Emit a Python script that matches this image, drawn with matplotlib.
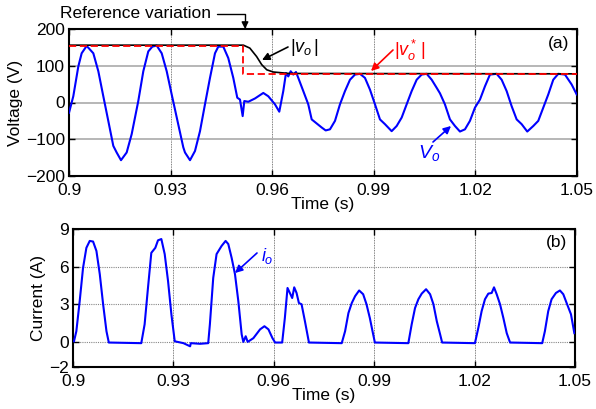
import matplotlib
matplotlib.use("Agg")
import matplotlib.pyplot as plt
import numpy as np

plt.rcParams["font.family"] = ["Liberation Sans", "DejaVu Sans"]
plt.rcParams["mathtext.fontset"] = "custom"
plt.rcParams["mathtext.rm"] = "Liberation Sans"
plt.rcParams["mathtext.it"] = "Liberation Sans:italic"
plt.rcParams["font.size"] = 12.5

# ---- data ----
# output voltage v_o (V)
vo_t = [0.9, 0.90127, 0.90275, 0.90374, 0.90522, 0.90718, 0.90866, 0.91013, 0.9116, 0.91308,
        0.91407, 0.91535, 0.91703, 0.91851, 0.92046, 0.92194, 0.92341, 0.9246, 0.92589, 0.92737,
        0.92885, 0.93032, 0.93227, 0.93375, 0.93425, 0.93573, 0.9372, 0.93868, 0.94015, 0.94163,
        0.94311, 0.94408, 0.94556, 0.94703, 0.94851, 0.94969, 0.95049, 0.95128, 0.95176, 0.95294,
        0.95492, 0.95737, 0.95884, 0.96082, 0.96209, 0.96327, 0.96407, 0.96475, 0.96546, 0.96623,
        0.96702, 0.9677, 0.96918, 0.97065, 0.97166, 0.97313, 0.97461, 0.97579, 0.97706, 0.97854,
        0.98001, 0.98149, 0.98297, 0.98444, 0.98592, 0.98739, 0.98887, 0.99035, 0.99182, 0.9933,
        0.99527, 0.99675, 0.99823, 0.9997, 1.00118, 1.00266, 1.00413, 1.00561, 1.00709, 1.00856,
        1.00954, 1.0110, 1.01249, 1.01397, 1.01544, 1.01692, 1.01839, 1.01987, 1.02135, 1.02282,
        1.0243, 1.02627, 1.02775, 1.02923, 1.0307, 1.03218, 1.03366, 1.03531, 1.03709, 1.03856,
        1.04004, 1.04152, 1.04299, 1.04447, 1.04645, 1.04842, 1.0499]
vo_v = [-28, 17, 98, 134, 154, 134, 85, 17, -50, -118,
        -136, -157, -136, -86, 4, 85, 139, 152, 155, 134,
        85, 22, -60, -122, -136, -157, -132, -78, -5, 67,
        134, 152, 152, 121, 67, 13, 8, -37, 4, 2,
        11, 26, 17, -5, -25, 31, 80, 71, 85, 76,
        83, 67, 31, -5, -46, -57, -68, -76, -73, -50,
        -5, 31, 62, 76, 78, 67, 35, -5, -46, -59,
        -78, -64, -41, -5, 31, 62, 76, 78, 62, 40,
        25, -5, -46, -64, -79, -73, -50, -14, 8, 44,
        76, 78, 62, 31, -10, -46, -59, -79, -64, -50,
        -14, 22, 62, 78, 76, 49, 22]

# measured amplitude |v_o| (V)
amp_t = [0.9, 0.9515, 0.9534, 0.9554, 0.9569, 0.9584, 0.9603, 0.965, 1.05]
amp_v = [156, 156, 148, 125, 103, 89, 83, 79, 78]

# reference amplitude |v*_o| (V)
ref_t = [0.9, 0.9515, 0.9515, 1.05]
ref_v = [155, 155, 77, 77]

# output current i_o (A)
io_t = [0.9003, 0.901, 0.902, 0.903, 0.904, 0.905, 0.906, 0.907, 0.908, 0.909,
        0.910, 0.9107, 0.9204, 0.9214, 0.9224, 0.9234, 0.9246, 0.9254, 0.9264, 0.9274,
        0.9284, 0.9294, 0.9304, 0.9330, 0.9350, 0.9352, 0.9380, 0.9404, 0.9409, 0.9419,
        0.9429, 0.9444, 0.9456, 0.9464, 0.9474, 0.9484, 0.9494, 0.9504, 0.9509, 0.9516,
        0.9522, 0.9539, 0.9559, 0.9572, 0.9584, 0.9596, 0.9604, 0.9625, 0.9633, 0.9641,
        0.9648, 0.9655, 0.9661, 0.9668, 0.9675, 0.9683, 0.9693, 0.9705, 0.9803, 0.9813,
        0.9823, 0.9833, 0.9843, 0.9855, 0.9867, 0.9877, 0.9887, 0.9895, 0.9902, 1.0002,
        1.0012, 1.0022, 1.0032, 1.0042, 1.0055, 1.0067, 1.0077, 1.0087, 1.0097, 1.0103,
        1.0201, 1.0211, 1.0221, 1.0231, 1.0241, 1.0251, 1.0258, 1.0266, 1.0276, 1.0286,
        1.0296, 1.0306, 1.0402, 1.0410, 1.0420, 1.0430, 1.0443, 1.0455, 1.0465, 1.0475,
        1.0488, 1.0498]
io_v = [0.05, 0.85, 3.25, 5.9, 7.5, 8.05, 8.0, 7.25, 5.4, 3.0,
        0.85, -0.05, -0.1, 1.4, 4.3, 7.1, 7.5, 8.1, 8.2, 7.0,
        4.85, 2.2, 0.05, -0.1, -0.35, -0.1, -0.15, -0.1, 1.4, 5.1,
        7.0, 7.65, 8.05, 7.8, 6.7, 5.4, 3.25, 0.6, 0.0, 0.45,
        0.0, 0.3, 1.0, 1.25, 1.0, 0.3, -0.05, -0.05, 1.9, 4.3,
        3.9, 3.5, 4.35, 3.9, 3.1, 3.0, 1.65, -0.05, -0.1, 0.85,
        2.3, 3.1, 3.65, 4.1, 3.8, 3.0, 1.9, 0.85, -0.05, -0.1,
        1.4, 2.7, 3.4, 3.85, 4.2, 3.8, 3.0, 1.65, 0.6, -0.05,
        -0.1, 1.1, 2.45, 3.4, 3.85, 3.9, 4.35, 3.8, 3.0, 1.9,
        0.7, -0.05, -0.1, 0.85, 2.45, 3.4, 3.9, 4.1, 3.8, 3.1,
        2.2, 0.7]

x_ticks = [0.9, 0.93, 0.96, 0.99, 1.02, 1.05]
x_tick_labels = ["0.9", "0.93", "0.96", "0.99", "1.02", "1.05"]
v_ticks = [-200, -100, 0, 100, 200]
i_ticks = [-2, 0, 3, 6, 9]

W, H = 596, 409
fig = plt.figure(figsize=(W / 100, H / 100), dpi=100)

def box(l, t, r, b):
  return [l / W, 1 - b / H, (r - l) / W, (b - t) / H]

def fp(x, y):
  return (x, H - y)

ax1 = fig.add_axes(box(69, 29, 577, 176))
ax2 = fig.add_axes(box(73, 229, 575, 367))

for ax in (ax1, ax2):
  ax.set_xlim(0.9, 1.05)
  ax.set_xticks(x_ticks)
  ax.set_xticklabels(x_tick_labels)
  ax.tick_params(direction="in", top=True, right=True, length=4, width=1, pad=3)
  ax.tick_params(axis="x", pad=5)
  ax.xaxis.grid(True, color="#555555", lw=0.6, ls=(0, (1, 1)))
  ax.yaxis.grid(True, color="#aaaaaa", lw=1.2, ls="-")
  ax.set_axisbelow(True)
  for s in ax.spines.values():
    s.set_linewidth(1.5)
  ax.set_xlabel("Time (s)", labelpad=-1)

ax1.plot(vo_t, vo_v, color="#0000ff", lw=1.5, zorder=3)
ax1.plot(amp_t, amp_v, color="black", lw=1.2, zorder=4)
ax1.plot(ref_t, ref_v, color="#ff0000", lw=1.3, dashes=(4, 2), zorder=5)
ax1.set_ylim(-200, 200)
ax1.set_yticks(v_ticks)
ax1.set_ylabel("Voltage (V)", labelpad=2)
ax1.text(0.985, 0.9, "(a)", transform=ax1.transAxes, ha="right", va="center")

ax2.plot(io_t, io_v, color="#0000ff", lw=1.5, zorder=3)
ax2.set_ylim(-2, 9)
ax2.set_yticks(i_ticks)
ax2.set_ylabel("Current (A)", labelpad=2)
ax2.yaxis.grid(True, color="#888888", lw=0.8, ls=(0, (1, 1)))
ax2.text(0.985, 0.9, "(b)", transform=ax2.transAxes, ha="right", va="center")

# annotations
ax1.annotate("Reference variation", xy=fp(245, 29), xycoords="figure pixels",
             xytext=fp(60, 14), textcoords="figure pixels", ha="left", va="center",
             arrowprops=dict(arrowstyle="-|>", connectionstyle="angle,angleA=0,angleB=90,rad=0",
                             relpos=(1, 0.5), color="black", lw=1, shrinkA=2, shrinkB=0,
                             mutation_scale=10))

def arrow(ax, tip, tail, color):
  ax.annotate("", xy=fp(*tip), xycoords="figure pixels", xytext=fp(*tail),
              textcoords="figure pixels",
              arrowprops=dict(arrowstyle="-|>", color=color, lw=1.2, shrinkA=0, shrinkB=0,
                              mutation_scale=11))

arrow(ax1, (262, 60), (288, 47), "black")
fig.text(290 / W, 1 - 47 / H, r"$|v_o\,|$", color="black", ha="left", va="center", fontsize=13)

arrow(ax1, (371, 71), (393, 50), "#ff0000")
fig.text(394 / W, 1 - 50 / H, r"$|v^*_o\,|$", color="#ff0000", ha="left", va="center", fontsize=13)

arrow(ax1, (451, 126), (433, 142), "#0000ff")
fig.text(418 / W, 1 - 153 / H, r"$V_o$", color="#0000ff", ha="left", va="center", fontsize=14)

arrow(ax2, (235, 273), (257, 253), "#0000ff")
fig.text(261 / W, 1 - 256 / H, r"$i_o$", color="#0000ff", ha="left", va="center", fontsize=13)

fig.savefig("out.png", dpi=100)
